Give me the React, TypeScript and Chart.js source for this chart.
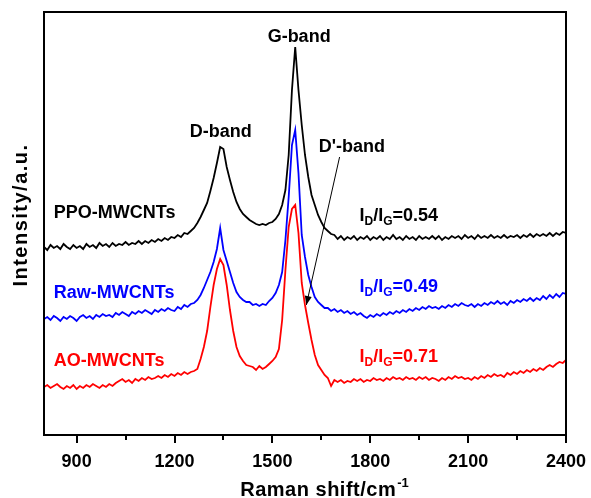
import React, { useEffect, useRef } from 'react';
import { Chart, registerables } from 'chart.js';

Chart.register(...registerables);

const ramanShift = [
  800, 810, 820, 830, 840, 850, 860, 870, 880, 890,
  900, 910, 920, 930, 940, 950, 960, 970, 980, 990,
  1000, 1010, 1020, 1030, 1040, 1050, 1060, 1070, 1080, 1090,
  1100, 1110, 1120, 1130, 1140, 1150, 1160, 1170, 1180, 1190,
  1200, 1210, 1220, 1230, 1240, 1250, 1260, 1270, 1280, 1290,
  1300, 1310, 1320, 1330, 1340, 1350, 1360, 1370, 1380, 1390,
  1400, 1410, 1420, 1430, 1440, 1450, 1460, 1470, 1480, 1490,
  1500, 1510, 1520, 1530, 1540, 1550, 1560, 1570, 1580, 1590,
  1600, 1610, 1620, 1630, 1640, 1650, 1660, 1670, 1680, 1690,
  1700, 1710, 1720, 1730, 1740, 1750, 1760, 1770, 1780, 1790,
  1800, 1810, 1820, 1830, 1840, 1850, 1860, 1870, 1880, 1890,
  1900, 1910, 1920, 1930, 1940, 1950, 1960, 1970, 1980, 1990,
  2000, 2010, 2020, 2030, 2040, 2050, 2060, 2070, 2080, 2090,
  2100, 2110, 2120, 2130, 2140, 2150, 2160, 2170, 2180, 2190,
  2200, 2210, 2220, 2230, 2240, 2250, 2260, 2270, 2280, 2290,
  2300, 2310, 2320, 2330, 2340, 2350, 2360, 2370, 2380, 2390,
  2400,
];

const ppoIntensity = [
  188, 185, 190, 187, 189, 186, 191, 188, 186, 190,
  187, 189, 186, 191, 188, 190, 187, 192, 189, 191,
  188, 192, 189, 191, 190, 193, 190, 192, 191, 194,
  191, 194, 192, 195, 193, 196, 194, 197, 195, 198,
  197, 200, 198, 202, 201, 204, 207, 212, 218, 225,
  232, 244, 257, 272, 288, 286, 268, 255, 243, 233,
  226, 221, 218, 215, 213, 211, 210, 211, 210, 212,
  213, 216, 221, 230, 245, 280, 345, 388, 345, 310,
  280, 258, 240, 230, 220, 213, 207, 204, 201, 200,
  196, 199, 195, 198, 196, 199, 195, 198, 196, 199,
  195, 198, 196, 199, 195, 198, 196, 200, 196, 198,
  195, 199, 196, 198, 195, 199, 196, 198, 196, 199,
  196, 199, 195, 198, 196, 199, 197, 199, 196, 200,
  197, 199, 196, 200, 197, 199, 197, 200, 197, 199,
  197, 200, 197, 199, 198, 200, 197, 200, 198, 201,
  198, 201, 199, 201, 199, 202, 199, 202, 200, 203,
  202,
];

const rawIntensity = [
  116, 118, 115, 119, 117, 114, 118, 116, 119, 117,
  114, 118, 120, 117, 119, 116, 120, 118, 121, 119,
  120, 118, 122, 120, 123, 121, 119, 123, 121, 124,
  122, 125, 123, 121, 125, 123, 126, 124, 127, 125,
  124, 128, 126, 130, 128, 131, 132, 135, 140, 147,
  155, 163, 173, 186, 207, 185, 174, 163, 152, 143,
  138, 135, 133, 133, 130, 131, 129, 131, 130, 134,
  137, 142, 150, 163, 195, 238, 290, 305, 262, 200,
  178, 160, 148, 138, 133, 130, 127, 127, 124, 126,
  123, 125, 122, 124, 121, 123, 120, 122, 119, 117,
  120, 118, 121, 119, 122, 120, 123, 121, 124, 122,
  125, 123, 126, 124, 127, 125, 128, 126, 129, 127,
  128, 126, 129, 127, 130, 128, 131, 129, 132, 130,
  129, 131, 128, 131, 129, 132, 130, 133, 131, 134,
  131, 133, 130, 134, 132, 135, 133, 136, 134, 137,
  134, 137, 135, 139, 136, 140, 137, 141, 138, 142,
  141,
];

const aoIntensity = [
  48, 50, 47, 49, 51, 48, 46, 49, 47, 50,
  46, 49, 47, 50, 48, 51, 49, 47, 50, 48,
  51, 49, 52, 54, 56, 53, 55, 52, 56, 54,
  57, 55, 58, 56, 57, 59, 57, 60, 58, 61,
  59, 62, 60, 63, 61, 63, 64, 66, 76, 88,
  104, 128, 150, 166, 176, 170, 150, 125, 104, 88,
  79, 74, 70, 69, 68, 65, 69, 66, 68, 71,
  74, 78, 86, 115, 165, 208, 226, 230, 202, 152,
  130, 112, 95, 80, 70, 65, 60, 57, 49, 55,
  53, 55, 52, 54, 53, 56, 54, 56, 53, 55,
  54, 57, 55, 56, 54, 57, 55, 58, 56, 57,
  55, 58, 56, 57, 55, 58, 56, 58, 55, 57,
  56, 54, 57, 55, 58, 56, 59, 57, 58, 56,
  57, 55, 58, 56, 59, 57, 60, 58, 61, 59,
  60, 58, 62, 60, 63, 61, 64, 62, 65, 63,
  66, 64, 67, 65, 68, 70, 68, 71, 73, 72,
  75,
];

const seriesNames = ['PPO-MWCNTs', 'Raw-MWCNTs', 'AO-MWCNTs'];
const seriesColors = ['#000000', '#0000ff', '#ff0000'];
const ratioValues = ['0.54', '0.49', '0.71'];
const bandNames = ['D-band', 'G-band', "D'-band"];
const majorTicks = [900, 1200, 1500, 1800, 2100, 2400];
const minorTicks = [1050, 1350, 1650, 1950, 2250];
const xTitle = 'Raman shift/cm';
const xTitleSup = '-1';
const yTitle = 'Intensity/a.u.';

const FONT = "'Liberation Sans', Arial, sans-serif";

const decorPlugin = {
  id: 'decor',
  afterDraw(chart: any) {
    const ctx = chart.ctx as CanvasRenderingContext2D;
    const { left, right, top, bottom } = chart.chartArea;
    const xs = chart.scales.x;
    const ys = chart.scales.y;
    const X = (v: number) => xs.getPixelForValue(v);
    const Y = (v: number) => ys.getPixelForValue(v);
    ctx.save();

    // frame
    ctx.strokeStyle = '#000';
    ctx.lineWidth = 2;
    ctx.strokeRect(left, top, right - left, bottom - top);

    // tick marks
    ctx.beginPath();
    majorTicks.forEach((t) => {
      const px = Math.round(X(t));
      ctx.moveTo(px, bottom);
      ctx.lineTo(px, bottom + 8);
    });
    minorTicks.forEach((t) => {
      const px = Math.round(X(t));
      ctx.moveTo(px, bottom);
      ctx.lineTo(px, bottom + 5);
    });
    ctx.stroke();

    // axis titles
    ctx.fillStyle = '#000';
    ctx.textBaseline = 'alphabetic';
    ctx.font = `bold 20px ${FONT}`;
    (ctx as any).letterSpacing = '0.5px';
    const wMain = ctx.measureText(xTitle).width;
    ctx.font = `bold 13px ${FONT}`;
    (ctx as any).letterSpacing = '0px';
    const wSup = ctx.measureText(xTitleSup).width;
    const startX = 324 - (wMain + wSup) / 2;
    ctx.textAlign = 'left';
    ctx.font = `bold 20px ${FONT}`;
    (ctx as any).letterSpacing = '0.5px';
    ctx.fillText(xTitle, startX, 496);
    ctx.font = `bold 13px ${FONT}`;
    (ctx as any).letterSpacing = '0px';
    ctx.fillText(xTitleSup, startX + wMain + 1, 487);

    ctx.save();
    ctx.translate(27, 215);
    ctx.rotate(-Math.PI / 2);
    ctx.textAlign = 'center';
    ctx.font = `bold 20px ${FONT}`;
    (ctx as any).letterSpacing = '1.5px';
    ctx.fillText(yTitle, 0, 0);
    ctx.restore();
    (ctx as any).letterSpacing = '0px';

    // band labels
    ctx.font = `bold 18px ${FONT}`;
    ctx.textAlign = 'center';
    ctx.fillStyle = '#000';
    ctx.fillText(bandNames[0], X(1342), Y(298));
    ctx.fillText(bandNames[1], X(1582), Y(393));
    ctx.fillText(bandNames[2], X(1744), Y(283));

    // D' arrow
    const x1 = X(1706), y1 = Y(278), x2 = X(1604), y2 = Y(130);
    ctx.strokeStyle = '#000';
    ctx.lineWidth = 1;
    ctx.beginPath();
    ctx.moveTo(x1, y1);
    ctx.lineTo(x2, y2);
    ctx.stroke();
    const ang = Math.atan2(y2 - y1, x2 - x1);
    const ah = 9, aw = 3.5;
    ctx.beginPath();
    ctx.moveTo(x2, y2);
    ctx.lineTo(x2 - ah * Math.cos(ang) + aw * Math.sin(ang), y2 - ah * Math.sin(ang) - aw * Math.cos(ang));
    ctx.lineTo(x2 - ah * Math.cos(ang) - aw * Math.sin(ang), y2 - ah * Math.sin(ang) + aw * Math.cos(ang));
    ctx.closePath();
    ctx.fill();

    // series names
    const nameY = [217, 137, 69];
    ctx.textAlign = 'left';
    ctx.font = `bold 18px ${FONT}`;
    seriesNames.forEach((n, i) => {
      ctx.fillStyle = seriesColors[i];
      ctx.fillText(n, X(830), Y(nameY[i]));
    });

    // ratio labels
    const ratioY = [214, 143, 73];
    ratioValues.forEach((val, i) => {
      let cx = X(1767);
      const by = Y(ratioY[i]);
      ctx.fillStyle = seriesColors[i];
      const big = `bold 18px ${FONT}`;
      const small = `bold 12px ${FONT}`;
      const parts: [string, boolean][] = [['I', false], ['D', true], ['/I', false], ['G', true], ['=' + val, false]];
      parts.forEach(([t, sub]) => {
        ctx.font = sub ? small : big;
        ctx.fillText(t, cx, sub ? by + 4 : by);
        cx += ctx.measureText(t).width;
      });
    });

    ctx.restore();
  },
};

export default function App() {
  const ref = useRef<HTMLCanvasElement | null>(null);

  useEffect(() => {
    if (!ref.current) return;
    const mk = (vals: number[]) => ramanShift.map((x, i) => ({ x, y: vals[i] }));
    const chart = new Chart(ref.current, {
      type: 'line',
      data: {
        datasets: [
          { label: seriesNames[0], data: mk(ppoIntensity), borderColor: seriesColors[0], borderWidth: 1.8, pointRadius: 0, tension: 0 },
          { label: seriesNames[1], data: mk(rawIntensity), borderColor: seriesColors[1], borderWidth: 1.8, pointRadius: 0, tension: 0 },
          { label: seriesNames[2], data: mk(aoIntensity), borderColor: seriesColors[2], borderWidth: 1.8, pointRadius: 0, tension: 0 },
        ],
      },
      options: {
        responsive: false,
        animation: false,
        devicePixelRatio: 1,
        layout: { padding: { left: 44, top: 12, right: 25, bottom: 0 } },
        plugins: { legend: { display: false }, tooltip: { enabled: false } },
        scales: {
          x: {
            type: 'linear',
            min: 800,
            max: 2400,
            grid: { display: false, drawTicks: true, tickLength: 12 },
            border: { display: false },
            afterBuildTicks: (scale: any) => {
              scale.ticks = [...majorTicks, ...minorTicks].sort((a, b) => a - b).map((v) => ({ value: v }));
            },
            afterFit: (scale: any) => {
              scale.height = 63;
              scale.paddingLeft = 0;
              scale.paddingRight = 0;
            },
            ticks: {
              autoSkip: false,
              maxRotation: 0,
              padding: 4,
              color: '#000',
              font: { family: FONT, size: 18, weight: 'bold' },
              callback: (v: any) => (majorTicks.includes(Number(v)) ? String(v) : ''),
            },
          },
          y: {
            display: false,
            min: 0,
            max: 423,
          },
        },
      },
      plugins: [decorPlugin],
    });
    return () => chart.destroy();
  }, []);

  return (
    <div style={{ position: 'fixed', left: 0, top: 0, width: 591, height: 498, background: '#fff' }}>
      <canvas ref={ref} width={591} height={498} style={{ display: 'block' }} />
    </div>
  );
}
